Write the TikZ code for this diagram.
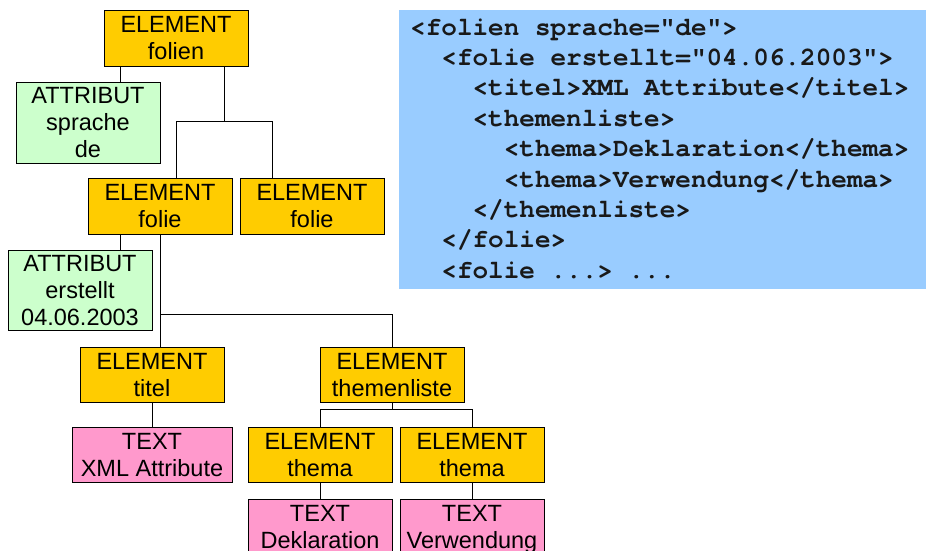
\documentclass[tikz,border=0pt]{standalone}
\usepackage{fontspec}
\setmainfont{Liberation Sans}
\newfontfamily\codefont{TeX Gyre Cursor}
\usetikzlibrary{shadows}
\definecolor{elemc}{HTML}{FFCC00}
\definecolor{attrc}{HTML}{CCFFCC}
\definecolor{textc}{HTML}{FF99CC}
\definecolor{codec}{HTML}{99CCFF}
\tikzset{
  box/.style={draw=black, line width=0.9pt, align=center, inner sep=0pt,
    minimum width=144pt, minimum height=55pt, text depth=0pt,
    font=\fontsize{23.5}{27}\selectfont,
    drop shadow={shadow xshift=1.2pt, shadow yshift=-1.2pt, fill=black!45, opacity=1}},
  elem/.style={box, fill=elemc},
  attr/.style={box, fill=attrc},
  txt/.style={box, fill=textc},
  conn/.style={draw=black, line width=0.9pt},
  codeline/.style={anchor=base west, inner sep=0pt, text=black!90, font=\codefont\bfseries\fontsize{26}{30}\selectfont}
}
\begin{document}
\begin{tikzpicture}[x=1pt,y=-1pt]
\useasboundingbox (0,0) rectangle (926,550);
\fill[white] (0,0) rectangle (926,550);
% code panel
\node[fill=codec, inner sep=0pt, minimum width=540pt, minimum height=279pt, anchor=north west] (codebg) at (399,10) {};
\node[codeline] (c1) at (410,35) {<folien sprache="de">};
\node[codeline] (c2) at (441.2,65.4) {<folie erstellt="04.06.2003">};
\node[codeline] (c3) at (472.4,95.8) {<titel>XML Attribute</titel>};
\node[codeline] (c4) at (472.4,126.2) {<themenliste>};
\node[codeline] (c5) at (503.6,156.6) {<thema>Deklaration</thema>};
\node[codeline] (c6) at (503.6,187) {<thema>Verwendung</thema>};
\node[codeline] (c7) at (472.4,217.4) {</themenliste>};
\node[codeline] (c8) at (441.2,247.8) {</folie>};
\node[codeline] (c9) at (441.2,278.2) {<folie ...> ...};
% tree nodes
\node[elem, minimum height=56pt] (folien) at (176,38) {ELEMENT\\folien};
\node[attr, minimum height=81pt] (sprache) at (88,122.5) {ATTRIBUT\\sprache\\de};
\node[elem, minimum height=56pt] (folie1) at (160,206) {ELEMENT\\folie};
\node[elem, minimum height=56pt] (folie2) at (312,206) {ELEMENT\\folie};
\node[attr, minimum height=80pt] (erstellt) at (80,290) {ATTRIBUT\\erstellt\\04.06.2003};
\node[elem] (titel) at (152,374.5) {ELEMENT\\titel};
\node[txt, minimum width=160pt] (xmlattr) at (152,454.5) {TEXT\\XML Attribute};
\node[elem] (themenliste) at (392,374.5) {ELEMENT\\themenliste};
\node[elem] (thema1) at (320,454.5) {ELEMENT\\thema};
\node[elem] (thema2) at (472,454.5) {ELEMENT\\thema};
\node[txt] (dekl) at (320,526.5) {TEXT\\Deklaration};
\node[txt] (verw) at (472,526.5) {TEXT\\Verwendung};
% connectors
\draw[conn] ([xshift=-56pt]folien.south) -- ([xshift=-56pt]folien.south |- sprache.north);
\draw[conn] ([xshift=48pt]folien.south) -- ++(0,56);
\draw[conn] ([xshift=16pt]folie1.north) -- ++(0,-56) -| ([xshift=-40pt]folie2.north);
\draw[conn] ([xshift=-40pt]folie1.south) -- ([xshift=-40pt]folie1.south |- erstellt.north);
\draw[conn] (folie1.south) -- (folie1.south |- titel.north);
\draw[conn] (themenliste.north) -- ++(0,-32) -| (folie1.south);
\draw[conn] (titel.south) -- (xmlattr.north);
\draw[conn] (themenliste.south) -- ++(0,8);
\draw[conn] (thema1.north) -- ++(0,-17) -| (thema2.north);
\draw[conn] (thema1.south) -- (dekl.north);
\draw[conn] (thema2.south) -- (verw.north);
\end{tikzpicture}
\end{document}
